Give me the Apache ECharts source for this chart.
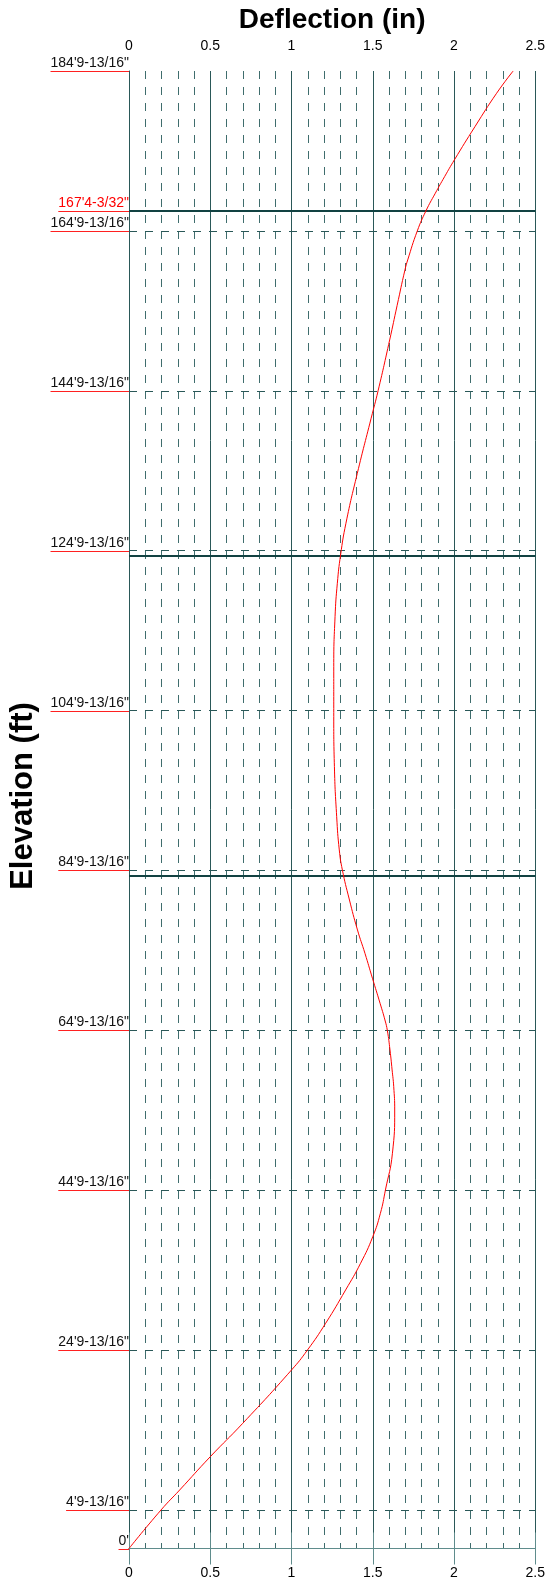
<!DOCTYPE html>
<html>
<head>
<meta charset="utf-8">
<title>Deflection vs Elevation</title>
<script src="https://cdn.jsdelivr.net/npm/echarts@6/dist/echarts.min.js"></script>
<style>
  html, body { margin: 0; padding: 0; background: #ffffff; }
  #chart { width: 548px; height: 1585px; }
</style>
</head>
<body>
<div id="chart"></div>
<script>
// Deflection profile along the pole: elevation (ft) and deflection (in)
const elevation = [0, 4.818, 7.32, 11.48, 15.66, 22.33, 24.82, 28.17, 32.34, 35.68,
  39.0, 41.93, 44.85, 49.44, 54.85, 57.77, 59.86, 62.36, 64.77, 66.11,
  68.2, 71.33, 74.45, 77.37, 81.25, 84.88, 87.38, 91.54, 97.8, 104.05,
  110.3, 116.56, 120.74, 124.28, 128.25, 134.5, 141.38, 144.83, 151.17, 155.5,
  159.93, 161.18, 164.81, 167.31, 169.53, 171.6, 173.69, 177.86, 182.03, 184.82];
const deflection = [0, 0.197, 0.312, 0.50, 0.70, 1.0, 1.098, 1.21, 1.333, 1.425,
  1.5, 1.547, 1.578, 1.621, 1.635, 1.629, 1.619, 1.606, 1.590, 1.575,
  1.545, 1.498, 1.452, 1.406, 1.355, 1.313, 1.294, 1.278, 1.264, 1.26,
  1.26, 1.268, 1.282, 1.302, 1.335, 1.405, 1.49, 1.533, 1.604, 1.65,
  1.698, 1.715, 1.774, 1.827, 1.885, 1.942, 2.002, 2.129, 2.262, 2.364];

// Elevation tick labels (feet'inches")
const elevLabels = ["184'9-13/16\"", "167'4-3/32\"", "164'9-13/16\"", "144'9-13/16\"",
  "124'9-13/16\"", "104'9-13/16\"", "84'9-13/16\"", "64'9-13/16\"", "44'9-13/16\"",
  "24'9-13/16\"", "4'9-13/16\"", "0'"];
const highlightLabel = "167'4-3/32\"";
// Section joints (ft), drawn as heavy lines
const jointElevations = [167.341, 124.2, 84.17];

// Deflection axis
const deflMin = 0, deflMax = 2.5, deflStep = 0.5;

// "184'9-13/16"" -> 184.818 ft
function ftIn(text) {
  const m = text.match(/^(\d+)'(?:(\d+)(?:-(\d+)\/(\d+))?)?/);
  const ft = +m[1];
  let inch = m[2] ? +m[2] : 0;
  if (m[3]) inch += (+m[3]) / (+m[4]);
  return ft + inch / 12;
}
const labelElev = elevLabels.map(ftIn);
const elevMax = Math.max.apply(null, labelElev);

const gridColor = '#2a5858';
const borderColor = '#5f8c8c';
const fontFamily = '"Liberation Sans", Arial, Helvetica, sans-serif';
const labelFont = '14px ' + fontFamily;

const measureCtx = document.createElement('canvas').getContext('2d');
measureCtx.font = labelFont;

// Dashed reference lines at the labelled elevations inside the plot
const dashedLevels = labelElev.filter(v => v > 0 && v < elevMax && jointElevations.every(j => Math.abs(j - v) > 0.01));
const markData = dashedLevels.map(v => ({
  yAxis: v, lineStyle: { type: [8, 8], color: gridColor, width: 1 }
})).concat(jointElevations.map(v => ({
  yAxis: v, lineStyle: { type: 'solid', color: '#124242', width: 2 }
})));

const chart = echarts.init(document.getElementById('chart'), null, { renderer: 'canvas' });

const xAxisCommon = {
  type: 'value',
  min: deflMin, max: deflMax, interval: deflStep,
  axisLine: { show: true, lineStyle: { color: borderColor, width: 1 } },
  axisTick: { show: true, length: 16, lineStyle: { color: borderColor, width: 1 } },
  axisLabel: { color: '#000', fontSize: 14, fontFamily: fontFamily, margin: 18 },
  splitLine: { show: true, lineStyle: { color: gridColor, width: 1 } },
  minorTick: { show: false, splitNumber: 5 },
  minorSplitLine: { show: true, lineStyle: { color: '#3f6d6d', width: 1, type: [8, 8] } }
};

chart.setOption({
  animation: false,
  backgroundColor: '#ffffff',
  grid: { left: 129, right: 11, top: 71, bottom: 36.5, containLabel: false },
  graphic: [
    {
      type: 'text',
      x: 23, y: 796,
      rotation: Math.PI / 2,
      silent: true,
      style: {
        text: 'Elevation (ft)',
        align: 'center', verticalAlign: 'middle',
        fill: '#000', font: 'bold 31px ' + fontFamily
      }
    }
  ],
  xAxis: [
    Object.assign({}, xAxisCommon, {
      position: 'top',
      name: 'Deflection (in)',
      nameLocation: 'middle',
      nameGap: 34,
      nameTextStyle: { color: '#000', fontSize: 28, fontWeight: 'bold', fontFamily: fontFamily }
    }),
    Object.assign({}, xAxisCommon, {
      position: 'bottom',
      splitLine: { show: false },
      minorSplitLine: { show: false }
    })
  ],
  yAxis: {
    type: 'value',
    min: 0, max: elevMax,
    axisLine: { show: true, lineStyle: { color: gridColor, width: 1 } },
    axisTick: { show: false },
    axisLabel: { show: false },
    splitLine: { show: false }
  },
  series: [
    {
      type: 'line',
      name: 'Deflection',
      xAxisIndex: 0,
      data: elevation.map((e, i) => [deflection[i], e]),
      showSymbol: false,
      smooth: 0.5,
      z: 4,
      lineStyle: { color: '#ff0000', width: 1 },
      markLine: {
        silent: true,
        z: 1,
        symbol: ['none', 'none'],
        label: { show: false },
        emphasis: { disabled: true },
        data: markData
      }
    },
    {
      type: 'custom',
      name: 'Elevation labels',
      xAxisIndex: 0,
      clip: false,
      silent: true,
      z: 5,
      data: labelElev.map((v, i) => [0, v, i]),
      encode: { x: 0, y: 1 },
      renderItem: function (params, api) {
        const idx = api.value(2);
        const text = elevLabels[idx];
        const pt = api.coord([deflMin, api.value(1)]);
        const y = Math.round(pt[1]) + 0.5;
        const w = measureCtx.measureText(text).width;
        const isHi = text === highlightLabel;
        return {
          type: 'group',
          children: [
            {
              type: 'text',
              style: {
                text: text,
                x: pt[0],
                y: y - 1,
                align: 'right',
                verticalAlign: 'bottom',
                fill: isHi ? '#ff0000' : '#111111',
                font: labelFont
              }
            },
            {
              type: 'line',
              shape: { x1: pt[0] - w, y1: y, x2: pt[0], y2: y },
              style: { stroke: '#ff2020', lineWidth: 1 }
            }
          ]
        };
      }
    }
  ]
});
</script>
</body>
</html>
